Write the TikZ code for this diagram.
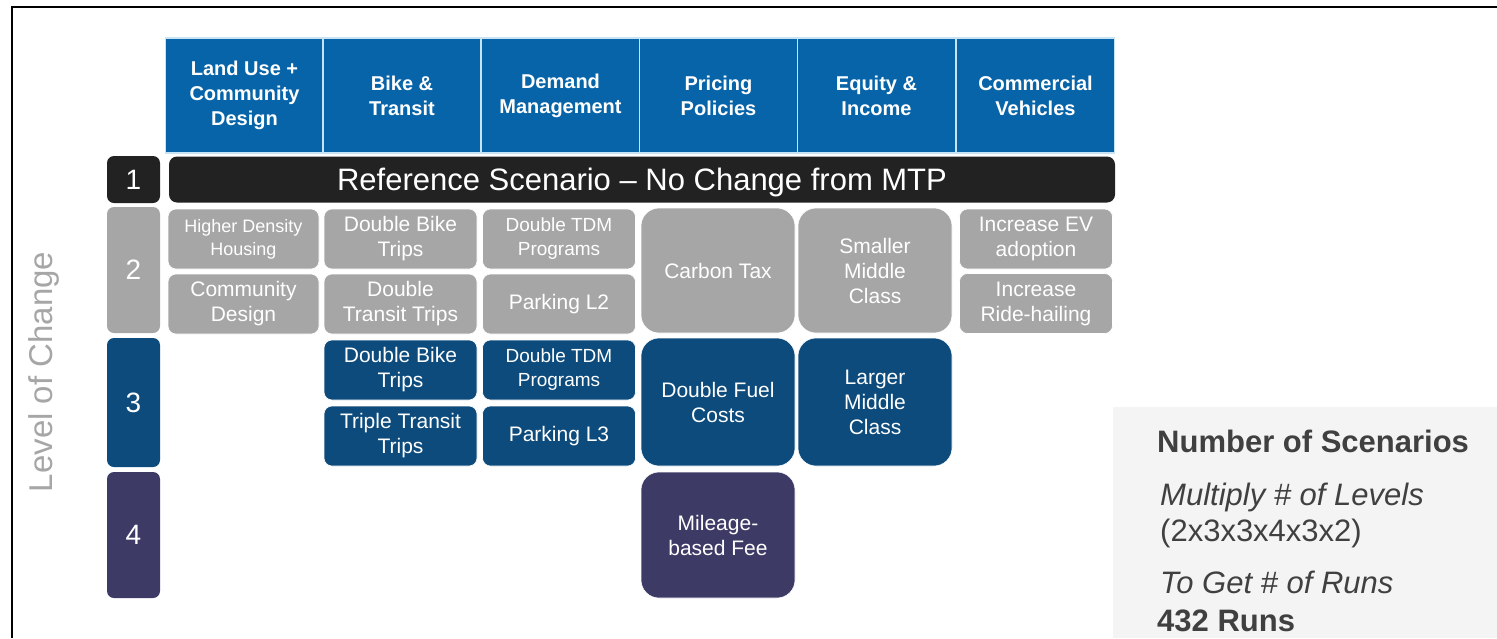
\documentclass[tikz,border=0pt]{standalone}
\usepackage{fontspec}
\setmainfont{Liberation Sans}
\usepackage{xcolor}
\usepackage{tikz}
\usetikzlibrary{positioning}

\definecolor{hdrblue}{HTML}{0864A8}
\definecolor{hdrline}{HTML}{C8E4F4}
\definecolor{lvlblack}{HTML}{222222}
\definecolor{lvlgray}{HTML}{A6A6A6}
\definecolor{lvlblue}{HTML}{0C4B7C}
\definecolor{lvlpurple}{HTML}{3D3A66}
\definecolor{panelgray}{HTML}{F4F4F4}
\definecolor{paneltext}{HTML}{404040}

\begin{document}
\begin{tikzpicture}[x=1pt,y=-1pt,
	hdr/.style={fill=hdrblue,draw=hdrline,line width=1.2pt,text=white,align=center,
		minimum width=158pt,minimum height=115pt,inner sep=0pt,
		font=\bfseries\fontsize{20}{25}\selectfont},
	num/.style={rounded corners=7pt,text=white,minimum width=53pt,inner sep=0pt,
		font=\fontsize{28}{30}\selectfont},
	cell/.style={rounded corners=8pt,text=white,align=center,inner sep=0pt,
		draw=white,line width=0.6pt,font=\fontsize{21}{25}\selectfont},
	small/.style={cell,minimum height=60pt},
	big/.style={cell,rounded corners=18pt,minimum width=154pt},
	wide/.style={minimum width=153pt},
	info/.style={anchor=base west,text=paneltext,inner sep=0pt,font=\fontsize{31}{36}\selectfont}]
	\useasboundingbox (0,0) rectangle (1497,638);
	\draw[line width=2pt] (12,638) -- (12,7) -- (1497,7);

	% column heads
	\node[hdr] (h1) at (244.5,95.5) {Land Use +\\Community\\Design};
	\node[hdr] (h2) at (402,95.5) {Bike \&\\Transit};
	\node[hdr] (h3) at (560.5,95.5) {Demand\\Management};
	\node[hdr] (h4) at (718.5,95.5) {Pricing\\Policies};
	\node[hdr] (h5) at (876.5,95.5) {Equity \&\\Income};
	\node[hdr] (h6) at (1035.5,95.5) {Commercial\\Vehicles};

	% levels
	\node[num,fill=lvlblack,minimum height=47pt] (l1) at (133.5,179.5) {1};
	\node[num,fill=lvlgray,minimum height=126pt] (l2) at (133.5,270) {2};
	\node[num,fill=lvlblue,minimum height=129pt] (l3) at (133.5,402.5) {3};
	\node[num,fill=lvlpurple,minimum height=126pt] (l4) at (133.5,535) {4};
	\node[text=lvlgray,rotate=90,font=\fontsize{33}{36}\selectfont] (loc) at (44,372) {Level of Change};

	\node[rounded corners=8pt,fill=lvlblack,text=white,minimum width=946pt,minimum height=46pt,
		inner sep=0pt,text height=22pt,text depth=0pt,
		font=\fontsize{31}{33}\selectfont] (ref) at (642,179.5) {Reference Scenario -- No Change from MTP};

	% level 2
	\node[small,fill=lvlgray,minimum width=151pt,font=\fontsize{18}{23}\selectfont] (c21a) at (243.5,239) {Higher Density\\Housing};
	\node[small,fill=lvlgray,minimum width=151pt] (c21b) at (243.5,304) {Community\\Design};
	\node[small,wide,fill=lvlgray] (c22a) at (400.5,239) {Double Bike\\Trips};
	\node[small,wide,fill=lvlgray] (c22b) at (400.5,304) {Double\\Transit Trips};
	\node[small,wide,fill=lvlgray,font=\fontsize{19}{24}\selectfont] (c23a) at (559,239) {Double TDM\\Programs};
	\node[small,wide,fill=lvlgray] (c23b) at (559,304) {Parking L2};
	\node[big,fill=lvlgray,minimum height=125pt] (c24) at (718,270.5) {Carbon Tax};
	\node[big,fill=lvlgray,minimum height=125pt] (c25) at (875,270.5) {Smaller\\Middle\\Class};
	\node[small,wide,fill=lvlgray] (c26a) at (1036,239) {Increase EV\\adoption};
	\node[small,wide,fill=lvlgray] (c26b) at (1036,303.5) {Increase\\Ride-hailing};

	% level 3
	\node[small,wide,fill=lvlblue] (c32a) at (400.5,370) {Double Bike\\Trips};
	\node[small,wide,fill=lvlblue] (c32b) at (400.5,436) {Triple Transit\\Trips};
	\node[small,wide,fill=lvlblue,font=\fontsize{19}{24}\selectfont] (c33a) at (559,370) {Double TDM\\Programs};
	\node[small,wide,fill=lvlblue] (c33b) at (559,436) {Parking L3};
	\node[big,fill=lvlblue,minimum height=128pt] (c34) at (718,402) {Double Fuel\\Costs};
	\node[big,fill=lvlblue,minimum height=128pt] (c35) at (875,402) {Larger\\Middle\\Class};

	% level 4
	\node[big,fill=lvlpurple,minimum height=126pt] (c44) at (718,535) {Mileage-\\based Fee};

	% scenario count
	\fill[panelgray] (1113,407) rectangle (1497,638);
	\node[info,font=\bfseries\fontsize{31}{36}\selectfont] (nos) at (1157,452) {Number of Scenarios};
	\node[info,font=\itshape\fontsize{31}{36}\selectfont] (mul) at (1160,505) {Multiply \# of Levels};
	\node[info] (lev) at (1160,541) {(2x3x3x4x3x2)};
	\node[info,font=\itshape\fontsize{31}{36}\selectfont] (get) at (1160,593) {To Get \# of Runs};
	\node[info,font=\bfseries\fontsize{31}{36}\selectfont] (runs) at (1157,631) {432 Runs};
\end{tikzpicture}
\end{document}
